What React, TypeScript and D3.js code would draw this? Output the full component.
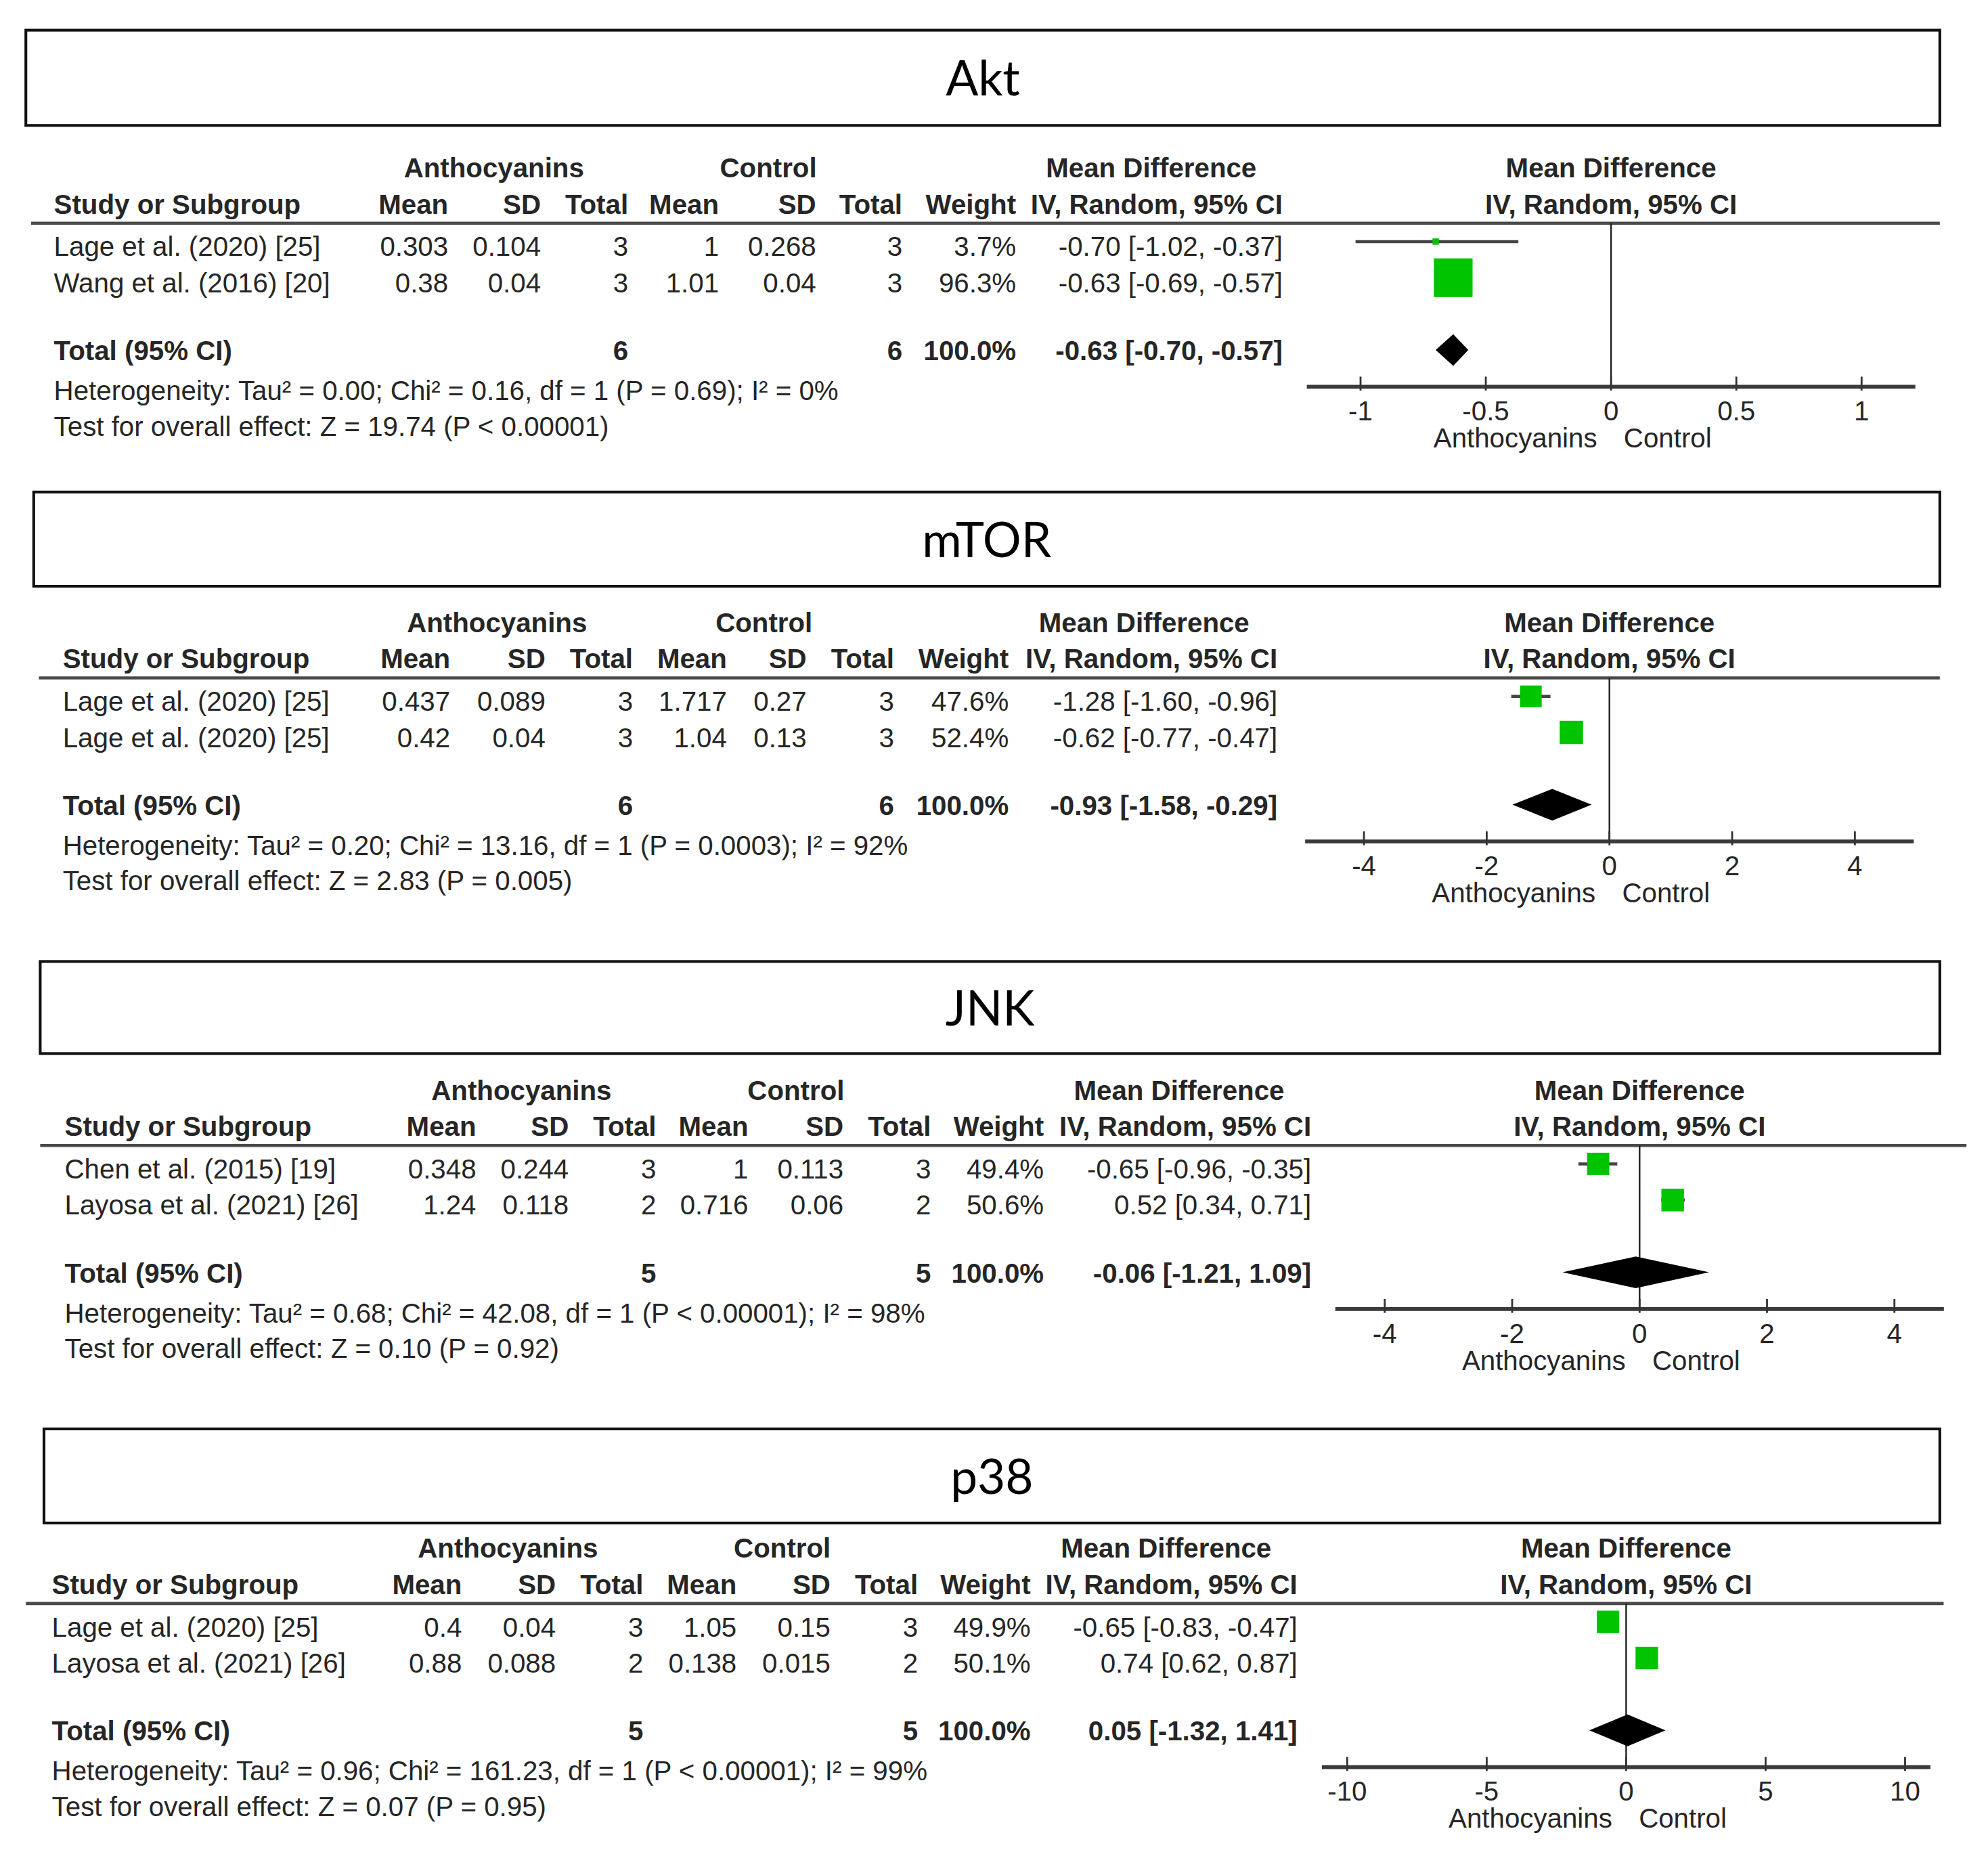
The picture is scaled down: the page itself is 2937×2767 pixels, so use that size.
import * as React from 'react';
import * as d3 from 'd3';

// ---- data ----
const panelTitles = ['Akt', 'mTOR', 'JNK', 'p38'];

const studyNames = [
  ['Lage et al. (2020) [25]', 'Wang et al. (2016) [20]'],
  ['Lage et al. (2020) [25]', 'Lage et al. (2020) [25]'],
  ['Chen et al. (2015) [19]', 'Layosa et al. (2021) [26]'],
  ['Lage et al. (2020) [25]', 'Layosa et al. (2021) [26]'],
];

const anthoMean = [[0.303, 0.38], [0.437, 0.42], [0.348, 1.24], [0.4, 0.88]];
const anthoSD = [[0.104, 0.04], [0.089, 0.04], [0.244, 0.118], [0.04, 0.088]];
const anthoN = [[3, 3], [3, 3], [3, 2], [3, 2]];

const controlMean = [[1, 1.01], [1.717, 1.04], [1, 0.716], [1.05, 0.138]];
const controlSD = [[0.268, 0.04], [0.27, 0.13], [0.113, 0.06], [0.15, 0.015]];
const controlN = [[3, 3], [3, 3], [3, 2], [3, 2]];

const weights = [[3.7, 96.3], [47.6, 52.4], [49.4, 50.6], [49.9, 50.1]];
const meanDiff = [[-0.7, -0.63], [-1.28, -0.62], [-0.65, 0.52], [-0.65, 0.74]];
const ciLower = [[-1.02, -0.69], [-1.6, -0.77], [-0.96, 0.34], [-0.83, 0.62]];
const ciUpper = [[-0.37, -0.57], [-0.96, -0.47], [-0.35, 0.71], [-0.47, 0.87]];

const pooledMD = [-0.63, -0.93, -0.06, 0.05];
const pooledLower = [-0.7, -1.58, -1.21, -1.32];
const pooledUpper = [-0.57, -0.29, 1.09, 1.41];

const tau2 = ['0.00', '0.20', '0.68', '0.96'];
const chi2 = ['0.16', '13.16', '42.08', '161.23'];
const hetP = ['P = 0.69', 'P = 0.0003', 'P < 0.00001', 'P < 0.00001'];
const iSquared = [0, 92, 98, 99];
const zValue = ['19.74', '2.83', '0.10', '0.07'];
const effectP = ['P < 0.00001', 'P = 0.005', 'P = 0.92', 'P = 0.95'];

const axisTicks = [
  [-1, -0.5, 0, 0.5, 1],
  [-4, -2, 0, 2, 4],
  [-4, -2, 0, 2, 4],
  [-10, -5, 0, 5, 10],
];

// ---- layout (in 1568-wide design units, scaled up by the viewBox) ----
type Layout = {
  box: [number, number, number, number];
  line: number;
  lineX: [number, number];
  cols: {[k: string]: number};
  zero: number;
  half: number;
};

const layouts: Layout[] = [
  {
    box: [20.4, 23.8, 1530, 98.9], line: 176, lineX: [24.5, 1530],
    cols: {study: 42.5, mean: 353.5, sd: 426.6, tot: 495.5, cmean: 567, csd: 643.7, ctot: 711.7, weight: 801.4, ci: 1011.7, antho: 389.6, control: 606, md: 908},
    zero: 1270.7, half: 197.6,
  },
  {
    box: [26.6, 388, 1530, 462.3], line: 534.6, lineX: [30.7, 1530],
    cols: {study: 49.5, mean: 355.1, sd: 430.2, tot: 499.2, cmean: 573.3, csd: 636.2, ctot: 705.2, weight: 795.6, ci: 1007.5, antho: 392, control: 602.6, md: 902.4},
    zero: 1269.4, half: 193.6,
  },
  {
    box: [31.7, 758.2, 1530, 830.8], line: 903.3, lineX: [31.7, 1551],
    cols: {study: 51, mean: 375.6, sd: 448.6, tot: 517.6, cmean: 590.2, csd: 665.3, ctot: 734.3, weight: 823.3, ci: 1034.2, antho: 411.3, control: 627.8, md: 930},
    zero: 1293.2, half: 201,
  },
  {
    box: [34.7, 1126.8, 1530, 1201], line: 1264.5, lineX: [20.4, 1533],
    cols: {study: 40.9, mean: 364.3, sd: 438.4, tot: 507.4, cmean: 581, csd: 655, ctot: 724, weight: 812.9, ci: 1023.3, antho: 400.6, control: 617, md: 919.7},
    zero: 1282.6, half: 220,
  },
];

const W = 2937;
const H = 2767;
const VW = 1568;
const VH = 1477;

const textFont = '"Liberation Sans", Arial, sans-serif';
const textColor = '#262626';
const fs = 21.5;

const boxSize = d3.scaleLinear().domain([0, 100]).range([4, 31.5]);

const fmtCI = (m: number, lo: number, hi: number) =>
  `${m.toFixed(2)} [${lo.toFixed(2)}, ${hi.toFixed(2)}]`;

const Panel = ({p}: {p: number}) => {
  const L = layouts[p];
  const c = L.cols;
  const y0 = L.line;
  const ticks = axisTicks[p];
  const x = d3.scaleLinear()
    .domain([ticks[0], ticks[ticks.length - 1]])
    .range([L.zero - L.half, L.zero + L.half]);
  const axisY = y0 + 129;
  const rowBase = [y0 + 26, y0 + 54.5];
  const totalBase = y0 + 108;
  const [bx0, by0, bx1, by1] = L.box;

  const right = (xx: number, yy: number, s: string | number, bold = false, key?: string) => (
    <text key={key} x={xx} y={yy} textAnchor="end" fontWeight={bold ? 'bold' : 'normal'}>{s}</text>
  );

  return (
    <g>
      <rect x={bx0} y={by0} width={bx1 - bx0} height={by1 - by0} fill="none" stroke="#111" strokeWidth={2.2}/>
      <text x={(bx0 + bx1) / 2} y={(by0 + by1) / 2 + 14} textAnchor="middle"
            fontFamily="Lato, 'Open Sans', sans-serif" fontSize={38} fill="#000">{panelTitles[p]}</text>

      <g fontFamily={textFont} fontSize={fs} fill={textColor}>
        {/* header */}
        <g fontWeight="bold">
          <text x={c.antho} y={y0 - 36} textAnchor="middle">Anthocyanins</text>
          <text x={c.control} y={y0 - 36} textAnchor="middle">Control</text>
          <text x={c.md} y={y0 - 36} textAnchor="middle">Mean Difference</text>
          <text x={L.zero} y={y0 - 36} textAnchor="middle">Mean Difference</text>
          <text x={c.study} y={y0 - 7.5}>Study or Subgroup</text>
          {right(c.mean, y0 - 7.5, 'Mean', true)}
          {right(c.sd, y0 - 7.5, 'SD', true)}
          {right(c.tot, y0 - 7.5, 'Total', true)}
          {right(c.cmean, y0 - 7.5, 'Mean', true)}
          {right(c.csd, y0 - 7.5, 'SD', true)}
          {right(c.ctot, y0 - 7.5, 'Total', true)}
          {right(c.weight, y0 - 7.5, 'Weight', true)}
          {right(c.ci, y0 - 7.5, 'IV, Random, 95% CI', true)}
          <text x={L.zero} y={y0 - 7.5} textAnchor="middle">IV, Random, 95% CI</text>
        </g>
        <line x1={L.lineX[0]} x2={L.lineX[1]} y1={y0} y2={y0} stroke="#4a4a4a" strokeWidth={2.5}/>

        {/* study rows */}
        {studyNames[p].map((name, i) => (
          <g key={i}>
            <text x={c.study} y={rowBase[i]}>{name}</text>
            {right(c.mean, rowBase[i], String(anthoMean[p][i]))}
            {right(c.sd, rowBase[i], String(anthoSD[p][i]))}
            {right(c.tot, rowBase[i], anthoN[p][i])}
            {right(c.cmean, rowBase[i], String(controlMean[p][i]))}
            {right(c.csd, rowBase[i], String(controlSD[p][i]))}
            {right(c.ctot, rowBase[i], controlN[p][i])}
            {right(c.weight, rowBase[i], `${weights[p][i].toFixed(1)}%`)}
            {right(c.ci, rowBase[i], fmtCI(meanDiff[p][i], ciLower[p][i], ciUpper[p][i]))}
          </g>
        ))}

        {/* total row */}
        <g fontWeight="bold">
          <text x={c.study} y={totalBase}>Total (95% CI)</text>
          {right(c.tot, totalBase, d3.sum(anthoN[p]), true)}
          {right(c.ctot, totalBase, d3.sum(controlN[p]), true)}
          {right(c.weight, totalBase, `${d3.sum(weights[p]).toFixed(1)}%`, true)}
          {right(c.ci, totalBase, fmtCI(pooledMD[p], pooledLower[p], pooledUpper[p]), true)}
        </g>
        <text x={c.study} y={y0 + 139.5}>
          {`Heterogeneity: Tau² = ${tau2[p]}; Chi² = ${chi2[p]}, df = ${studyNames[p].length - 1} (${hetP[p]}); I² = ${iSquared[p]}%`}
        </text>
        <text x={c.study} y={y0 + 167.5}>
          {`Test for overall effect: Z = ${zValue[p]} (${effectP[p]})`}
        </text>

        {/* forest plot */}
        <line x1={x(0)} x2={x(0)} y1={y0} y2={axisY} stroke="#222" strokeWidth={1.3}/>
        {studyNames[p].map((_, i) => {
          const cy = rowBase[i] - 11.5;
          const s = boxSize(weights[p][i]);
          return (
            <g key={`m${i}`}>
              <line x1={x(ciLower[p][i])} x2={x(ciUpper[p][i])} y1={cy} y2={cy} stroke="#454545" strokeWidth={2.4}/>
              <rect x={x(meanDiff[p][i]) - s / 2} y={cy - s / 2} width={s} height={s} fill="#00c400"/>
            </g>
          );
        })}
        <path
          d={`M${x(pooledLower[p])},${y0 + 100} L${x(pooledMD[p])},${y0 + 87.5} L${x(pooledUpper[p])},${y0 + 100} L${x(pooledMD[p])},${y0 + 112.5} Z`}
          fill="#000"/>

        <line x1={x(0) - 240} x2={x(0) + 240} y1={axisY} y2={axisY} stroke="#3a3a3a" strokeWidth={3}/>
        {ticks.map(t => (
          <g key={`t${t}`}>
            <line x1={x(t)} x2={x(t)} y1={axisY - 8} y2={axisY + 3} stroke="#333" strokeWidth={1.5}/>
            <text x={x(t)} y={y0 + 155.5} textAnchor="middle">{String(t)}</text>
          </g>
        ))}
        <text x={x(0) - 11} y={y0 + 177} textAnchor="end">Anthocyanins</text>
        <text x={x(0) + 10} y={y0 + 177}>Control</text>
      </g>
    </g>
  );
};

export default function App() {
  return (
    <svg width={W} height={H} viewBox={`0 0 ${VW} ${VH}`} preserveAspectRatio="none"
         style={{position: 'absolute', left: 0, top: 0, background: '#fff'}}>
      <rect x={0} y={0} width={VW} height={VH} fill="#fff"/>
      {panelTitles.map((_, p) => <Panel key={p} p={p}/>)}
    </svg>
  );
}
